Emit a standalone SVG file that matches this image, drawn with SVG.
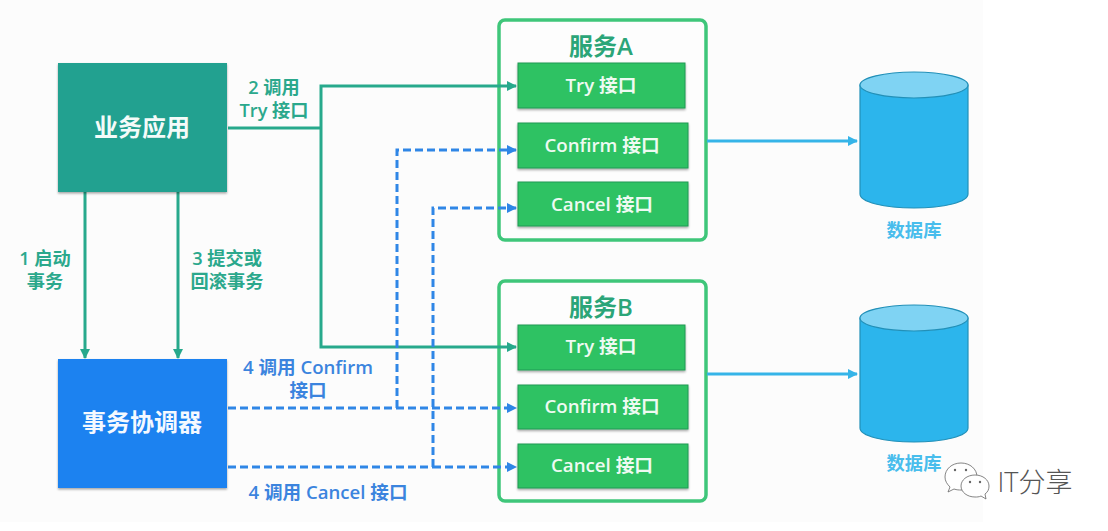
<svg xmlns="http://www.w3.org/2000/svg" width="1108" height="531" viewBox="0 0 1108 531">
<style>
text{font-family:"Open Sans","Noto Sans CJK SC",sans-serif;font-weight:600;text-anchor:middle}
.box{filter:url(#sh)}
.iface{fill:#2dc263;stroke:#1f9a55;stroke-width:1;filter:url(#sh)}
.it{fill:#eefaf2;font-size:18.7px}
.svc{fill:#fdfdfd;stroke:#3fc67a;stroke-width:3.5}
.st{fill:#2ba578;font-size:24px}
.g{fill:none;stroke:#27a98c;stroke-width:3}
.b{fill:none;stroke:#2f86e6;stroke-width:3;stroke-dasharray:8 4}
.c{fill:none;stroke:#35b4e8;stroke-width:3}
.gl{fill:#2ba88c;font-size:18.2px}
.bl{fill:#3b84de;font-size:18.6px}
.dbl{fill:#48bdec;font-size:18.3px}
.cyl{fill:#2cb5ec;stroke:#2290b8;stroke-width:1.2}
.cap{fill:#7fd3f3;stroke:#2290b8;stroke-width:1.2}
.w{fill:#fff;stroke:#666;stroke-width:0.8}
</style>
<defs>
<filter id="sh" x="-5%" y="-5%" width="110%" height="115%"><feDropShadow dx="0" dy="1.5" stdDeviation="1.2" flood-color="#000" flood-opacity="0.35"/></filter>
<marker id="ag" markerWidth="11" markerHeight="11" refX="9" refY="5" orient="auto" markerUnits="userSpaceOnUse"><path d="M0 0L10 5L0 10Z" fill="#27a98c"/></marker>
<marker id="ab" markerWidth="11" markerHeight="11" refX="9" refY="5" orient="auto" markerUnits="userSpaceOnUse"><path d="M0 0L10 5L0 10Z" fill="#2f86e6"/></marker>
<marker id="ac" markerWidth="11" markerHeight="11" refX="9" refY="5" orient="auto" markerUnits="userSpaceOnUse"><path d="M0 0L10 5L0 10Z" fill="#35b4e8"/></marker>
</defs>
<rect width="1108" height="531" fill="#fff"/>
<rect width="983" height="522" fill="#fcfcfc"/>

<g id="service-a-frame"><rect class="svc" x="499" y="20" width="207" height="220" rx="6"/><text class="st" x="601" y="55">服务A</text></g>
<g id="service-b-frame"><rect class="svc" x="499" y="281" width="207" height="220" rx="6"/><text class="st" x="601" y="316">服务B</text></g>

<g id="connectors">
<path class="g" d="M85 192V358" marker-end="url(#ag)"/>
<path class="g" d="M178 192V358" marker-end="url(#ag)"/>
<path class="g" d="M228 128H321"/>
<path class="g" d="M321 128V86H516" marker-end="url(#ag)"/>
<path class="g" d="M321 128V347H516" marker-end="url(#ag)"/>
<path class="b" d="M228 408H516" marker-end="url(#ab)"/>
<path class="b" d="M228 467H433"/>
<path class="b" d="M433 467V208H516" marker-end="url(#ab)"/>
<path class="b" d="M433 467H516" marker-end="url(#ab)"/>
<path class="b" d="M397 408V150H516" marker-end="url(#ab)"/>
<path class="c" d="M707 141H857" marker-end="url(#ac)"/>
<path class="c" d="M707 374H857" marker-end="url(#ac)"/>
</g>

<g id="app"><rect class="box" x="58" y="63" width="169" height="129" fill="#22a190"/><text x="142" y="136" font-size="24" fill="#f4fbf9">业务应用</text></g>
<g id="coordinator"><rect class="box" x="58" y="359" width="169" height="129" fill="#1c82f0"/><text x="142" y="431" font-size="24" fill="#f4f9ff">事务协调器</text></g>

<g id="a-try"><rect class="iface" x="518" y="63" width="167" height="45"/><text class="it" x="601" y="92">Try 接口</text></g>
<g id="a-confirm"><rect class="iface" x="518" y="123" width="170" height="45"/><text class="it" x="602" y="152">Confirm 接口</text></g>
<g id="a-cancel"><rect class="iface" x="518" y="182" width="170" height="44"/><text class="it" x="602" y="211">Cancel 接口</text></g>
<g id="b-try"><rect class="iface" x="518" y="325" width="167" height="45"/><text class="it" x="601" y="353">Try 接口</text></g>
<g id="b-confirm"><rect class="iface" x="518" y="385" width="170" height="44"/><text class="it" x="602" y="413">Confirm 接口</text></g>
<g id="b-cancel"><rect class="iface" x="518" y="444" width="170" height="44"/><text class="it" x="602" y="472">Cancel 接口</text></g>

<g id="db-a"><path class="cyl" d="M860 85V194C860 202 884 208 914 208S968 202 968 194V85Z"/><ellipse class="cap" cx="914" cy="85" rx="54" ry="13"/><text class="dbl" x="914" y="237">数据库</text></g>
<g id="db-b"><path class="cyl" d="M860 318V428C860 436 884 442 914 442S968 436 968 428V318Z"/><ellipse class="cap" cx="914" cy="318" rx="54" ry="13"/><text class="dbl" x="914" y="470">数据库</text></g>

<g id="labels">
<text class="gl" x="274" y="94">2 调用</text><text class="gl" x="274" y="117">Try 接口</text>
<text class="gl" x="45" y="265">1 启动</text><text class="gl" x="45" y="288">事务</text>
<text class="gl" x="227" y="265">3 提交或</text><text class="gl" x="227" y="288">回滚事务</text>
<text class="bl" x="308" y="374">4 调用 Confirm</text><text class="bl" x="308" y="397">接口</text>
<text class="bl" x="328" y="499">4 调用 Cancel 接口</text>
</g>

<g id="watermark">
<path class="w" d="M961 463C952 463 945 469 945 477C945 481 947 484 950 487L948 492L954 489C957 490 959 490 961 490C971 490 977 484 977 477C977 469 970 463 961 463Z"/>
<path class="w" d="M975 475C967 475 961 480 961 486C961 492 967 497 975 497C977 497 979 497 981 496L986 499L985 494C988 492 989 489 989 486C989 480 983 475 975 475Z"/>
<circle cx="955" cy="470" r="1.2" fill="#666"/><circle cx="966" cy="470" r="1.2" fill="#666"/>
<circle cx="970" cy="482" r="1.2" fill="#666"/><circle cx="980" cy="482" r="1.2" fill="#666"/>
<text x="1035" y="492" font-size="27" style="font-weight:300" fill="#555">IT分享</text>
</g>
</svg>
